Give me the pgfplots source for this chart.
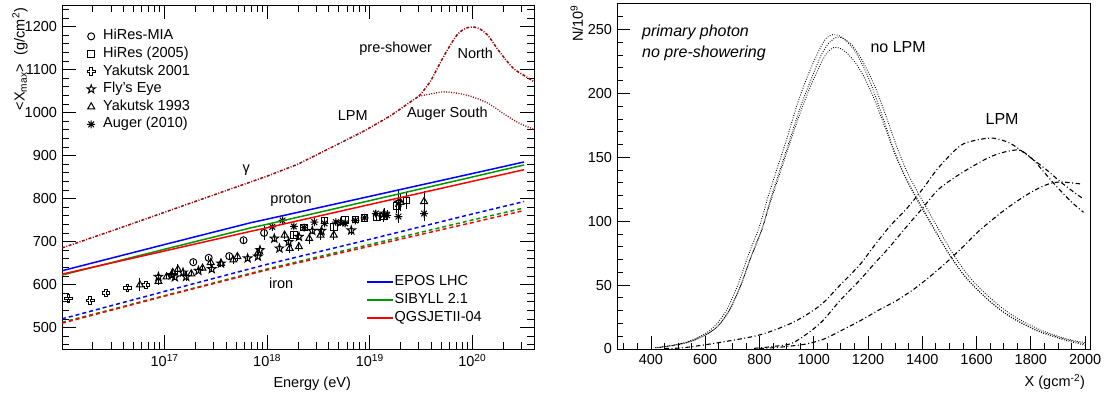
\documentclass[border=0pt]{standalone}
\usepackage{fontspec}
\setmainfont{Liberation Sans}
\usepackage{pgfplots}
\pgfplotsset{compat=1.18}

\definecolor{gdark}{RGB}{150,10,10}
\definecolor{sgreen}{RGB}{0,150,0}

\pgfdeclareplotmark{ocross}{%
  \pgfpathmoveto{\pgfpoint{0.33\pgfplotmarksize}{\pgfplotmarksize}}%
  \pgfpathlineto{\pgfpoint{0.33\pgfplotmarksize}{0.33\pgfplotmarksize}}%
  \pgfpathlineto{\pgfpoint{\pgfplotmarksize}{0.33\pgfplotmarksize}}%
  \pgfpathlineto{\pgfpoint{\pgfplotmarksize}{-0.33\pgfplotmarksize}}%
  \pgfpathlineto{\pgfpoint{0.33\pgfplotmarksize}{-0.33\pgfplotmarksize}}%
  \pgfpathlineto{\pgfpoint{0.33\pgfplotmarksize}{-\pgfplotmarksize}}%
  \pgfpathlineto{\pgfpoint{-0.33\pgfplotmarksize}{-\pgfplotmarksize}}%
  \pgfpathlineto{\pgfpoint{-0.33\pgfplotmarksize}{-0.33\pgfplotmarksize}}%
  \pgfpathlineto{\pgfpoint{-\pgfplotmarksize}{-0.33\pgfplotmarksize}}%
  \pgfpathlineto{\pgfpoint{-\pgfplotmarksize}{0.33\pgfplotmarksize}}%
  \pgfpathlineto{\pgfpoint{-0.33\pgfplotmarksize}{0.33\pgfplotmarksize}}%
  \pgfpathlineto{\pgfpoint{-0.33\pgfplotmarksize}{\pgfplotmarksize}}%
  \pgfpathclose\pgfusepathqstroke}
\pgfdeclareplotmark{ostar}{%
  \pgfpathmoveto{\pgfpointpolar{90}{1.25\pgfplotmarksize}}%
  \pgfpathlineto{\pgfpointpolar{126}{0.5\pgfplotmarksize}}%
  \pgfpathlineto{\pgfpointpolar{162}{1.25\pgfplotmarksize}}%
  \pgfpathlineto{\pgfpointpolar{198}{0.5\pgfplotmarksize}}%
  \pgfpathlineto{\pgfpointpolar{234}{1.25\pgfplotmarksize}}%
  \pgfpathlineto{\pgfpointpolar{270}{0.5\pgfplotmarksize}}%
  \pgfpathlineto{\pgfpointpolar{306}{1.25\pgfplotmarksize}}%
  \pgfpathlineto{\pgfpointpolar{342}{0.5\pgfplotmarksize}}%
  \pgfpathlineto{\pgfpointpolar{18}{1.25\pgfplotmarksize}}%
  \pgfpathlineto{\pgfpointpolar{54}{0.5\pgfplotmarksize}}%
  \pgfpathclose\pgfusepathqstroke}
\pgfdeclareplotmark{ast8}{%
  \pgfpathmoveto{\pgfpoint{-\pgfplotmarksize}{0pt}}\pgfpathlineto{\pgfpoint{\pgfplotmarksize}{0pt}}%
  \pgfpathmoveto{\pgfpoint{0pt}{-\pgfplotmarksize}}\pgfpathlineto{\pgfpoint{0pt}{\pgfplotmarksize}}%
  \pgfpathmoveto{\pgfpointpolar{45}{\pgfplotmarksize}}\pgfpathlineto{\pgfpointpolar{225}{\pgfplotmarksize}}%
  \pgfpathmoveto{\pgfpointpolar{135}{\pgfplotmarksize}}\pgfpathlineto{\pgfpointpolar{315}{\pgfplotmarksize}}%
  \pgfusepathqstroke}

\pgfplotsset{
  mydata/.style={only marks, mark options={solid, line width=1pt, fill=none}, line width=1pt,
    error bars/y dir=both, error bars/y explicit, error bars/error mark=none,
    error bars/error bar style={line width=1pt}},
}

\begin{document}
\fontsize{14.5pt}{17pt}\selectfont
\begin{tikzpicture}
\useasboundingbox (0pt,0pt) rectangle (1107pt,394pt);

% ---------------- left panel: data ----------------
\begin{axis}[
  xmode=log, at={(62pt,45pt)}, anchor=south west, scale only axis,
  width=472pt, height=344pt,
  xmin=1e16, xmax=4e20, ymin=450, ymax=1250,
  xtick={1e17,1e18,1e19,1e20},
  xticklabels={10\textsuperscript{17},10\textsuperscript{18},10\textsuperscript{19},10\textsuperscript{20}},
  minor xtick={2e16,3e16,4e16,5e16,6e16,7e16,8e16,9e16,
               2e17,3e17,4e17,5e17,6e17,7e17,8e17,9e17,
               2e18,3e18,4e18,5e18,6e18,7e18,8e18,9e18,
               2e19,3e19,4e19,5e19,6e19,7e19,8e19,9e19,
               2e20,3e20,4e20},
  ytick={500,600,...,1200},
  minor ytick={460,480,...,1240},
  tick align=inside, tick pos=both,
  major tick length=14pt, minor tick length=7pt,
  tick style={black, line width=0.8pt},
  axis line style={line width=1pt},
  /pgf/number format/1000 sep={}, /pgf/number format/assume math mode=true,
  xlabel={Energy (eV)},
  ylabel={{<}X\textsubscript{max}{>}\hspace{0.6em}(g/cm\textsuperscript{2})},
  every axis x label/.style={at={(axis description cs:0.53,-0.067)}, anchor=north},
  every axis y label/.style={at={(axis description cs:-0.089,1.006)}, anchor=east, rotate=90},
  legend cell align=left,
  legend image code/.code={\path[draw=none, fill=none] (0pt,0pt) -- (17pt,0pt); \draw[#1] plot coordinates {(6pt,0pt)};},
  legend style={at={(axis description cs:0.0487,0.935)}, anchor=north west,
    draw=none, fill=none, inner sep=0pt, row sep=0pt,
    nodes={inner sep=1pt, text height=11.3pt, text depth=4.3pt}},
]
% gamma curves (no legend)
\addplot[forget plot, gdark, line width=1.5pt, dash pattern=on 3pt off 1.5pt on 1pt off 1.5pt] coordinates {
 (1e16,685) (3.162e16,726) (1e17,768) (3.162e17,810) (1e18,852) (2e18,880)
 (4.17e18,918) (8.81e18,957) (1.585e19,992) (2.69e19,1030) (3.02e19,1038)};
\addplot[forget plot, gdark, line width=1.5pt, dash pattern=on 3pt off 1.5pt on 1pt off 1.5pt, smooth] coordinates {
 (3.02e19,1038) (3.89e19,1072) (5.25e19,1130) (7.08e19,1180) (8.91e19,1197)
 (1.12e20,1197) (1.41e20,1180) (1.86e20,1140) (2.51e20,1103) (3.16e20,1087) (3.98e20,1072)};
\addplot[forget plot, gdark, line width=1.3pt, dash pattern=on 1pt off 1.5pt, smooth] coordinates {
 (3.02e19,1038) (3.89e19,1043) (5.25e19,1048) (7.08e19,1045) (9.55e19,1038)
 (1.41e20,1022) (2.09e20,995) (2.82e20,976) (3.98e20,961)};

\addplot[mydata, mark=o, mark size=3.5pt] coordinates {
 (1.905e17,652) +- (0,5) (2.692e17,662) +- (0,5) (4.266e17,666) +- (0,6)
 (5.888e17,703) +- (0,6) (9.333e17,720) +- (0,16)};
\addlegendentry{HiRes-MIA}
\addplot[mydata, mark=square, mark size=3.3pt] coordinates {
 (1.82e18,715) +- (0,6) (2.291e18,733) +- (0,6) (3.631e18,749) +- (0,6)
 (4.467e18,734) +- (0,7) (5.754e18,751) +- (0,7) (7.244e18,751) +- (0,8)
 (8.913e18,755) +- (0,9) (1.175e19,757) +- (0,10) (1.349e19,758) +- (0,12)
 (1.82e19,782) +- (0,15) (2.291e19,795) +- (0,20)};
\addlegendentry{HiRes (2005)}
\addplot[mydata, mark=ocross, mark size=3.8pt] coordinates {
 (1.156e16,568) +- (0,4) (1.884e16,563) +- (0,4) (2.69e16,580) +- (0,4)
 (4.37e16,592) +- (0,4) (6.61e16,599) +- (0,5)};
\addlegendentry{Yakutsk 2001}
\addplot[mydata, mark=ostar, mark size=3.5pt] coordinates {
 (8.71e16,618) +- (0,12) (1.175e17,622) +- (0,6) (1.259e17,617) +- (0,6)
 (1.514e17,628) +- (0,6) (1.622e17,618) +- (0,10) (2.138e17,632) +- (0,6)
 (2.884e17,636) +- (0,6) (3.548e17,649) +- (0,6) (6.457e17,661) +- (0,6)
 (8.128e17,665) +- (0,6) (8.511e17,680) +- (0,7) (1.175e18,707) +- (0,7)
 (1.318e18,684) +- (0,7) (1.622e18,699) +- (0,8) (2.042e18,711) +- (0,8)
 (2.754e18,725) +- (0,8) (3.388e18,725) +- (0,9) (5.248e18,745) +- (0,9)
 (6.607e18,726) +- (0,10) (1.38e19,765) +- (0,14) (1.905e19,791) +- (0,30)};
\addlegendentry{Fly's Eye}
\addplot[mydata, mark=triangle, mark size=4pt] coordinates {
 (5.75e16,599) +- (0,15) (8.71e16,607) +- (0,8) (1.047e17,618) +- (0,6)
 (1.202e17,628) +- (0,6) (1.349e17,635) +- (0,12) (1.82e17,625) +- (0,6)
 (2.344e17,638) +- (0,6) (2.818e17,651) +- (0,8) (3.548e17,649) +- (0,8)
 (4.677e17,657) +- (0,10) (5.129e17,665) +- (0,10) (8.128e17,673) +- (0,10)
 (1.479e18,715) +- (0,10) (1.66e18,684) +- (0,10) (2.042e18,688) +- (0,10)
 (2.57e18,707) +- (0,12) (3.311e18,715) +- (0,12) (4.467e18,715) +- (0,12)
 (1.995e19,791) +- (0,20) (3.388e19,793) +- (0,25)};
\addlegendentry{Yakutsk 1993}
\addplot[mydata, mark=ast8, mark size=4pt] coordinates {
 (1.122e18,734) +- (0,5) (1.413e18,749) +- (0,5) (1.82e18,735) +- (0,5)
 (2.291e18,732) +- (0,5) (2.884e18,745) +- (0,5) (3.631e18,742) +- (0,5)
 (4.677e18,745) +- (0,6) (5.754e18,742) +- (0,6) (7.244e18,749) +- (0,7)
 (8.913e18,755) +- (0,8) (1.148e19,765) +- (0,9) (1.479e19,761) +- (0,12)
 (1.905e19,758) +- (0,15) (3.388e19,765) +- (0,18)};
\addlegendentry{Auger (2010)}

\node at (axis cs:6.25e17,865) {γ};
\node at (axis cs:1.71e18,795) {proton};
\node at (axis cs:1.37e18,603) {iron};
\node at (axis cs:6.84e18,992) {LPM};
\node at (axis cs:1.79e19,1148) {pre-shower};
\node at (axis cs:1.07e20,1137) {North};
\node at (axis cs:5.71e19,996) {Auger South};
\end{axis}

% ---------------- left panel: model lines ----------------
\begin{axis}[
  xmode=log, at={(62pt,45pt)}, anchor=south west, scale only axis,
  width=472pt, height=344pt,
  xmin=1e16, xmax=4e20, ymin=450, ymax=1250,
  hide axis,
  legend cell align=left,
  legend image code/.code={\draw[#1] (0pt,0pt) -- (26pt,0pt);},
  legend style={at={(axis description cs:0.644,0.222)}, anchor=north west,
    draw=none, fill=none, inner sep=0pt, row sep=0pt,
    nodes={inner sep=1pt, text height=11.5pt, text depth=4.5pt}},
]
\addplot[blue, line width=1.5pt] coordinates {(1e16,632) (1e17,693) (7e17,744) (1e18,752) (1e19,805) (1e20,858) (3.2e20,885)};
\addlegendentry{EPOS LHC}
\addplot[sgreen, line width=1.5pt] coordinates {(1e16,622) (1e17,682) (7e17,732) (1e18,740) (1e19,795) (1e20,850) (3.2e20,878)};
\addlegendentry{SIBYLL 2.1}
\addplot[red, line width=1.5pt] coordinates {(1e16,624) (1e17,678) (7e17,724) (1e18,732) (1e19,786) (1e20,840) (3.2e20,867)};
\addlegendentry{QGSJETII-04}
\addplot[forget plot, blue, line width=1.5pt, dash pattern=on 4pt off 3pt] coordinates {(1e16,520) (1e17,584) (1e18,647) (1e19,705) (1e20,764) (3.2e20,793)};
\addplot[forget plot, sgreen, line width=1.5pt, dash pattern=on 4pt off 3pt] coordinates {(1e16,512) (1e17,574) (1e18,636) (1e19,693) (1e20,750) (3.2e20,778)};
\addplot[forget plot, red, line width=1.5pt, dash pattern=on 4pt off 3pt] coordinates {(1e16,510) (1e17,573) (1e18,634) (1e19,689) (1e20,744) (3.2e20,772)};
\end{axis}

% ---------------- right panel ----------------
\begin{axis}[at={(617pt,45pt)}, anchor=south west, scale only axis,
  width=473pt, height=345pt,
  xmin=275, xmax=2018, ymin=0, ymax=270,
  xtick={400,600,...,2000}, minor xtick={300,350,...,2000},
  ytick={0,50,...,250}, minor ytick={10,20,...,260},
  tick align=inside, xtick pos=left, ytick pos=left,
  major tick length=13pt, minor tick length=6pt,
  tick style={black, line width=0.8pt},
  axis line style={line width=1pt},
  /pgf/number format/1000 sep={}, /pgf/number format/assume math mode=true,
  xlabel={X (gcm\textsuperscript{-2})},
  ylabel={N/10\textsuperscript{9}},
  every axis x label/.style={at={(axis description cs:1,-0.058)}, anchor=north east},
  every axis y label/.style={at={(axis description cs:-0.085,1.012)}, anchor=east, rotate=90},
]
\addplot[black, line width=0.9pt, dash pattern=on 0.8pt off 1.6pt, smooth] coordinates {
 (415,1) (480,3) (540,6) (600,12) (640,19) (680,31) (720,50) (760,74) (800,96) (830,118)
 (860,138) (900,164) (940,192) (980,215) (1020,234) (1045,243) (1070,246) (1095,245)
 (1125,240) (1155,232) (1185,220) (1215,205) (1255,181) (1295,156) (1335,136) (1375,120)
 (1415,105) (1455,90) (1500,74) (1560,56) (1640,39) (1720,26) (1820,15) (1920,8) (2000,4)};
\addplot[black, line width=0.9pt, dash pattern=on 0.8pt off 1.6pt, smooth] coordinates {
 (425,1) (490,3) (550,6) (610,12) (652,19) (692,31) (732,50) (772,74) (812,96) (842,118)
 (872,138) (912,164) (952,190) (992,212) (1030,231) (1058,240) (1085,244) (1110,243)
 (1140,238) (1170,229) (1200,217) (1230,203) (1270,180) (1310,156) (1350,136) (1390,120)
 (1430,105) (1470,90) (1515,74) (1575,56) (1655,39) (1735,26) (1835,15) (1930,8) (2000,5)};
\addplot[black, line width=0.9pt, dash pattern=on 0.8pt off 1.6pt, smooth] coordinates {
 (420,1) (485,3) (545,6) (605,11.5) (647,18) (687,30) (727,48) (767,71) (807,92) (837,113)
 (867,132) (907,158) (947,183) (987,205) (1025,223) (1050,232) (1075,236) (1100,235)
 (1130,230) (1160,222) (1190,211) (1220,197) (1260,175) (1300,152) (1340,133) (1380,117)
 (1420,102) (1460,88) (1505,72) (1565,55) (1645,38) (1725,25) (1825,14) (1925,7) (2000,3)};
% LPM curves
\addplot[black, line width=1.1pt, dash pattern=on 4.5pt off 2.5pt on 1pt off 2.5pt, smooth] coordinates {
 (450,0.5) (520,1) (650,5) (800,11) (925,21) (1023,34) (1097,50) (1170,66) (1220,80)
 (1280,96) (1343,110) (1404,126) (1460,142) (1539,159) (1600,163.5) (1662,165)
 (1724,161) (1785,152) (1859,140) (1908,131) (1957,123) (1990,118)};
\addplot[black, line width=1.1pt, dash pattern=on 4.5pt off 2.5pt on 1pt off 2.5pt, smooth] coordinates {
 (780,0.5) (850,2) (925,5) (1023,20) (1097,38) (1170,54) (1220,66) (1280,80) (1343,96)
 (1404,111) (1460,125) (1539,137) (1637,149) (1700,154) (1760,155.5) (1809,148)
 (1850,138) (1900,126) (1950,115) (1994,107)};
\addplot[black, line width=1.1pt, dash pattern=on 4.5pt off 2.5pt on 1pt off 2.5pt, smooth] coordinates {
 (800,0.3) (880,1.5) (974,4) (1040,8) (1097,14) (1170,22) (1244,31) (1306,38) (1370,47)
 (1430,57) (1490,68) (1550,80) (1607,92) (1674,104) (1724,112) (1780,120) (1830,126)
 (1871,129.5) (1908,130.7) (1950,130) (1990,129)};

\node[anchor=west, inner sep=0pt, font=\fontsize{16pt}{19pt}\selectfont\itshape] at (axis cs:367,247.7) {primary photon};
\node[anchor=west, inner sep=0pt, font=\fontsize{16pt}{19pt}\selectfont\itshape] at (axis cs:367,231) {no pre-showering};
\node[font=\fontsize{16pt}{19pt}\selectfont] at (axis cs:1311,236) {no LPM};
\node[font=\fontsize{16pt}{19pt}\selectfont] at (axis cs:1694,180) {LPM};
\end{axis}
\end{tikzpicture}
\end{document}
